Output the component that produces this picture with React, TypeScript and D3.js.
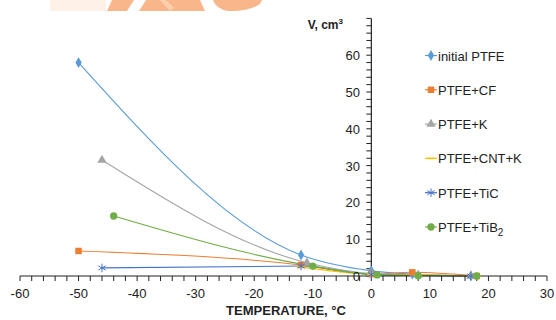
import React from "react";
import * as d3 from "d3";

const seriesNames = ["initial PTFE", "PTFE+CF", "PTFE+K", "PTFE+CNT+K", "PTFE+TiC", "PTFE+TiB"];
const seriesColors = ["#5b9bd5", "#ed7d31", "#a5a5a5", "#ffc000", "#4472c4", "#70ad47"];

const ptfeX = [-50, -12, 0, 7, 17];
const ptfeY = [58, 5.7, 1.4, 0.5, 0];
const cfX = [-50, -12, 0, 7, 18];
const cfY = [6.8, 3.0, 0.5, 1.0, 0];
const kX = [-46, -11, 0, 8, 17];
const kY = [31.5, 3.6, 0.7, 0.3, 0];
const cntkX = [-12, 0, 8, 18];
const cntkY = [2.4, 0.5, 0.3, 0];
const ticX = [-46, -12, 0, 17];
const ticY = [2.2, 2.7, 0.4, 0];
const tib2X = [-44, -10, 1, 8, 18];
const tib2Y = [16.3, 2.7, 0.3, 0.1, 0];

const xTicks = [-60, -50, -40, -30, -20, -10, 0, 10, 20, 30];
const yTicks = [0, 10, 20, 30, 40, 50, 60];

const allX = [ptfeX, cfX, kX, cntkX, ticX, tib2X];
const allY = [ptfeY, cfY, kY, cntkY, ticY, tib2Y];
const symbols = ["diamond", "square", "triangle", "dash", "asterisk", "circle"];

const FONT = "Liberation Sans, Arial, sans-serif";

function Marker({ kind, x, y, color }: { kind: string; x: number; y: number; color: string }) {
  if (kind === "dash") {
    return <line x1={x - 4} x2={x + 4} y1={y} y2={y} stroke={color} strokeWidth={1.5} />;
  }
  let type: any = d3.symbolCircle;
  let size = 40;
  if (kind === "diamond") { type = d3.symbolDiamond; size = 34; }
  if (kind === "square") { type = d3.symbolSquare; size = 42; }
  if (kind === "triangle") { type = d3.symbolTriangle; size = 38; }
  if (kind === "circle") { type = d3.symbolCircle; size = 42; }
  if (kind === "asterisk") { type = d3.symbolAsterisk; size = 50; }
  const p = d3.symbol().type(type).size(size)() as string;
  if (kind === "asterisk") {
    return <path d={p} transform={`translate(${x},${y})`} fill="none" stroke={color} strokeWidth={1} />;
  }
  return <path d={p} transform={`translate(${x},${y})`} fill={color} />;
}

export default function App() {
  const x = d3.scaleLinear().domain([-60, 30]).range([20, 547]);
  const y = d3.scaleLinear().domain([0, 70]).range([276, 18.4]);
  const line = d3
    .line<[number, number]>()
    .x((d) => x(d[0]))
    .y((d) => y(d[1]))
    .curve(d3.curveMonotoneX);

  const x0 = x(0);
  const yAxisY = y(0);
  const minorX = d3.range(-60, 31, 2);
  const minorY = d3.range(0, 71, 2);

  const legendY0 = 55.5;
  const legendStep = 34.3;

  return (
    <svg
      width={556}
      height={320}
      style={{ position: "absolute", left: 0, top: 0, background: "#fff" }}
      fontFamily={FONT}
    >
      {/* watermark fragments */}
      <g>
        <rect x={50} y={0} width={56} height={11} fill="#fdf1e8" />
        <polygon points="107,11 112,0 134,0 127,11" fill="#f9b68a" />
        <polygon points="139,11 146,0 200,0 205,11" fill="#f9b68a" />
        <polygon points="160,0 166,0 174,8 170,11" fill="#fbd0b0" />
        <path d="M213,0 L262,0 L260,4 Q248,12 228,11 Q216,9 213,0 Z" fill="#f9b68a" />
      </g>

      {/* series lines */}
      {allX.map((xs, i) => {
        const pts = xs.map((v, j) => [v, allY[i][j]] as [number, number]);
        return (
          <path key={"l" + i} d={line(pts) as string} fill="none" stroke={seriesColors[i]} strokeWidth={1.1} />
        );
      })}

      {/* x axis */}
      <line x1={x(-60)} x2={x(30)} y1={yAxisY} y2={yAxisY} stroke="#222" strokeWidth={1.2} />
      {minorX.map((v) => (
        <line key={"mx" + v} x1={x(v)} x2={x(v)} y1={yAxisY} y2={yAxisY + 5} stroke="#222" strokeWidth={1} />
      ))}
      {xTicks.map((v) => (
        <text key={"xt" + v} x={x(v)} y={298} fontSize={13} textAnchor="middle" fill="#222">
          {v}
        </text>
      ))}
      <text x={286} y={315} fontSize={13} fontWeight="bold" textAnchor="middle" fill="#222">
        TEMPERATURE, °C
      </text>

      {/* y axis */}
      <line x1={x0} x2={x0} y1={y(70)} y2={yAxisY} stroke="#222" strokeWidth={1.2} />
      {minorY.map((v) => (
        <line key={"my" + v} x1={x0 - 5} x2={x0} y1={y(v)} y2={y(v)} stroke="#222" strokeWidth={1} />
      ))}
      {yTicks.map((v) => (
        <text key={"yt" + v} x={360} y={y(v) + 5} fontSize={13} textAnchor="end" fill="#222">
          {v}
        </text>
      ))}
      <text x={343} y={29} fontSize={12} fontWeight="bold" textAnchor="end" fill="#222">
        V, cm<tspan dy={-5} fontSize={8}>3</tspan>
      </text>

      {/* markers */}
      {allX.map((xs, i) => (
        <g key={"m" + i}>
          {xs.map((v, j) => (
            <Marker key={j} kind={symbols[i]} x={x(v)} y={y(allY[i][j])} color={seriesColors[i]} />
          ))}
        </g>
      ))}

      {/* legend */}
      {seriesNames.map((name, i) => {
        const ly = legendY0 + i * legendStep;
        return (
          <g key={"lg" + i}>
            <line x1={425} x2={437} y1={ly} y2={ly} stroke={seriesColors[i]} strokeWidth={1.2} />
            <Marker kind={symbols[i]} x={431} y={ly} color={seriesColors[i]} />
            <text x={438} y={ly + 5} fontSize={13} fill="#222">
              {name}
              {i === 5 ? <tspan dy={4} fontSize={10}>2</tspan> : null}
            </text>
          </g>
        );
      })}
    </svg>
  );
}
